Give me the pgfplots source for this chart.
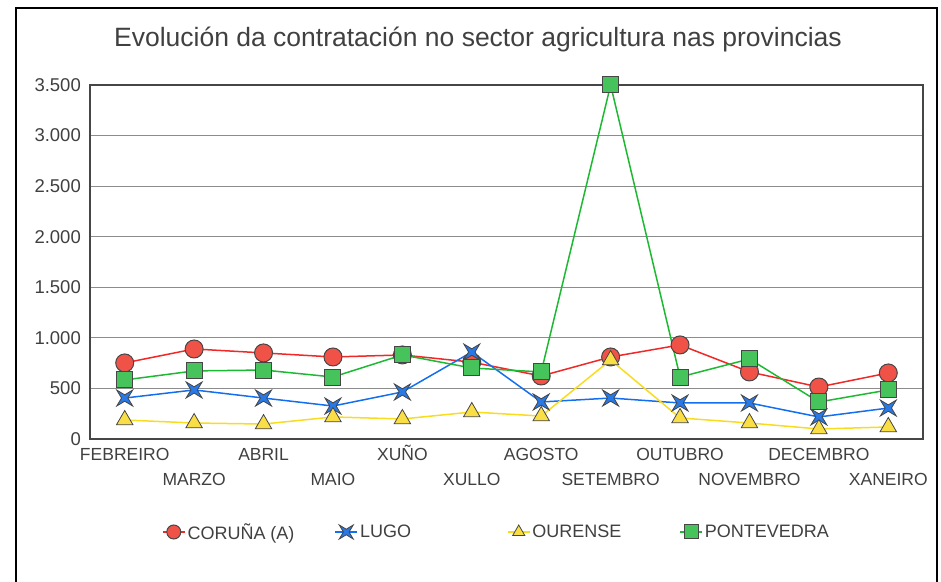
\documentclass[border=0pt]{standalone}
\usepackage{fontspec}
\setmainfont{Liberation Sans}
\usepackage{pgfplots}
\pgfplotsset{compat=1.18}
\definecolor{txt}{RGB}{64,64,64}
\definecolor{edge}{RGB}{70,70,70}
\definecolor{cred}{RGB}{240,40,40}
\definecolor{fred}{RGB}{240,82,72}
\definecolor{cblue}{RGB}{20,110,240}
\definecolor{fblue}{RGB}{40,120,230}
\definecolor{cyel}{RGB}{250,220,30}
\definecolor{fyel}{RGB}{250,222,70}
\definecolor{cgreen}{RGB}{30,185,50}
\definecolor{fgreen}{RGB}{70,195,90}
\pgfdeclareplotmark{xstar}{%
 \pgfpathmoveto{\pgfqpoint{\pgfplotmarksize}{\pgfplotmarksize}}%
 \pgfpathlineto{\pgfqpoint{0pt}{0.4\pgfplotmarksize}}%
 \pgfpathlineto{\pgfqpoint{-\pgfplotmarksize}{\pgfplotmarksize}}%
 \pgfpathlineto{\pgfqpoint{-0.4\pgfplotmarksize}{0pt}}%
 \pgfpathlineto{\pgfqpoint{-\pgfplotmarksize}{-\pgfplotmarksize}}%
 \pgfpathlineto{\pgfqpoint{0pt}{-0.4\pgfplotmarksize}}%
 \pgfpathlineto{\pgfqpoint{\pgfplotmarksize}{-\pgfplotmarksize}}%
 \pgfpathlineto{\pgfqpoint{0.4\pgfplotmarksize}{0pt}}%
 \pgfpathclose
 \pgfusepathqfillstroke}
\begin{document}
\begin{tikzpicture}
\useasboundingbox (-90bp,-143bp) rectangle (851bp,439bp);
\draw[line width=2.5bp, black] (-74bp,-170bp) rectangle (847bp,431bp);
\begin{axis}[
  at={(0,0)}, anchor=south west,
  scale only axis, width=833bp, height=354bp,
  xmin=-0.5, xmax=11.5, ymin=0, ymax=3500,
  axis line style={draw=edge, line width=1.2bp},
  ymajorgrids, grid style={draw=gray!90, line width=0.9bp},
  major tick length=0pt,
  xtick={0,...,11},
  xticklabels={FEBREIRO,\raisebox{-25bp}{MARZO},ABRIL,\raisebox{-25bp}{MAIO},XUÑO,\raisebox{-25bp}{XULLO},AGOSTO,\raisebox{-25bp}{SETEMBRO},OUTUBRO,\raisebox{-25bp}{NOVEMBRO},DECEMBRO,\raisebox{-25bp}{XANEIRO}},
  xticklabel style={anchor=north, inner sep=0pt, yshift=-8bp, text height=12.9bp, text depth=0pt, font=\fontsize{17.5bp}{20bp}\selectfont, text=txt},
  ytick={0,500,...,3500},
  scaled ticks=false,
  /pgf/number format/.cd, 1000 sep={.}, assume math mode=true,
  /pgfplots/.cd,
  yticklabel style={anchor=east, inner sep=0pt, xshift=-9bp, font=\fontsize{18.5bp}{22bp}\selectfont, text=txt},
  legend columns=4,
  legend image code/.code={\draw[mark repeat=2,mark phase=2,#1,mark size=7bp] plot coordinates {(0bp,0bp)(11bp,0bp)(22bp,0bp)};},
  legend style={at={(0.5006,-0.2627)}, anchor=center, draw=none, fill=none,
    font=\fontsize{18bp}{22bp}\selectfont, text=txt, column sep=0pt,
    /tikz/every even column/.append style={column sep=0pt}},
  legend cell align=left,
]
\addplot[cred, line width=1.5bp, mark=*, mark size=9bp, mark options={fill=fred, draw=edge, line width=1bp}]
 coordinates {(0,752)(1,890)(2,851)(3,811)(4,831)(5,760)(6,623)(7,811)(8,930)(9,663)(10,514)(11,653)};
\addlegendentry{\makebox[145bp][l]{CORUÑA (A)}}
\addplot[cblue, line width=1.5bp, mark=xstar, mark size=8bp, mark options={fill=fblue, draw=edge, line width=0.8bp}]
 coordinates {(0,405)(1,485)(2,405)(3,326)(4,465)(5,860)(6,366)(7,405)(8,356)(9,356)(10,218)(11,306)};
\addlegendentry{\makebox[145bp][l]{LUGO}}
\addplot[cyel, line width=1.5bp, mark=triangle*, mark size=9.5bp, mark options={fill=fyel, draw=edge, line width=0.8bp}]
 coordinates {(0,188)(1,158)(2,148)(3,218)(4,198)(5,267)(6,227)(7,781)(8,208)(9,158)(10,99)(11,119)};
\addlegendentry{\makebox[145bp][l]{OURENSE}}
\addplot[cgreen, line width=1.5bp, mark=square*, mark size=8bp, mark options={fill=fgreen, draw=edge, line width=1bp}]
 coordinates {(0,584)(1,673)(2,682)(3,613)(4,831)(5,702)(6,663)(7,3500)(8,613)(9,791)(10,366)(11,485)};
\addlegendentry{\makebox[145bp][l]{PONTEVEDRA}}
\end{axis}
\node[anchor=base, text=txt, font=\fontsize{26.5bp}{30bp}\selectfont, inner sep=0pt] at (388bp,392bp) {Evolución da contratación no sector agricultura nas provincias};
\end{tikzpicture}
\end{document}
